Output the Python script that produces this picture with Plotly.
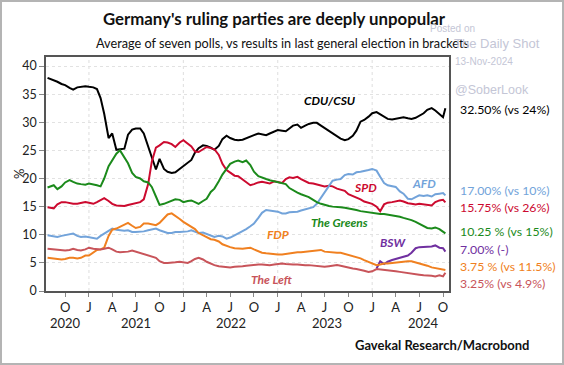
import pandas as pd
import plotly.graph_objects as go

FONT = "Lato, Arial, sans-serif"

# ---- data (semi-monthly readings, %) ----
dates = (["2020-08-08"]
         + [d.strftime("%Y-%m-%d") for d in pd.date_range("2020-09-01", "2024-10-15", freq="SMS")]
         + ["2024-10-24"])

cdu = [37.9,
       37.5, 37.2, 36.8, 36.6, 36.1, 35.8, 36.2, 36.3,
       36.4, 36.3, 36.2, 35.9, 34.3, 31.5, 27.2, 28.0, 25.1, 25.2, 25.3, 27.8,
       28.7, 28.9, 28.9, 28.0, 25.8, 23.8, 21.6, 23.5, 21.7, 21.2, 21.0, 21.1,
       21.7, 22.2, 22.7, 23.3, 24.6, 25.4, 25.9, 25.8, 25.5, 25.1, 25.8, 27.0,
       27.6, 27.2, 26.9, 26.8, 26.9, 27.2, 27.4, 27.7, 28.0, 27.9, 27.7, 28.0,
       28.4, 28.6, 28.5, 28.4, 28.9, 29.4, 29.6, 29.0, 29.4, 29.7, 29.9, 29.9,
       29.4, 29.0, 28.5, 28.1, 27.5, 27.1, 26.8, 27.0, 27.6, 28.5, 30.1, 30.4,
       31.0, 31.6, 31.8, 31.4, 31.0, 30.6, 30.5, 30.6, 30.8, 30.9, 30.7, 30.6,
       30.8, 31.1, 31.6, 32.2, 32.5, 32.1, 31.4, 30.9,
       32.5]

spd = [14.9,
       14.7, 15.4, 15.8, 15.8, 15.6, 15.5, 15.5, 15.6,
       15.8, 15.7, 15.5, 15.8, 16.1, 16.5, 16.0, 15.5, 15.2, 15.1, 15.1, 15.3,
       15.5, 15.6, 15.8, 16.3, 19.0, 23.0, 25.5, 25.9, 26.5, 26.4, 26.1, 25.6,
       26.4, 26.8, 26.2, 25.7, 24.8, 24.7, 25.2, 25.6, 25.4, 25.2, 24.2, 22.6,
       21.5, 21.1, 20.5, 20.4, 19.8, 19.2, 18.8, 19.0, 19.3, 19.4, 19.3, 19.1,
       19.5, 19.4, 19.2, 19.9, 20.2, 20.1, 20.3, 19.9, 19.5, 19.2, 19.1, 18.9,
       18.7, 18.6, 18.7, 18.6, 18.2, 18.0, 17.8, 17.2, 16.9, 16.7, 16.3, 15.9,
       15.7, 15.5, 15.0, 14.2, 15.4, 15.7, 15.8, 15.9, 16.1, 15.9, 15.6, 15.5,
       15.4, 15.5, 15.4, 15.3, 15.2, 15.8, 16.1, 16.2,
       15.75]

greens = [18.4,
          18.8, 18.1, 18.6, 19.3, 19.7, 19.4, 19.1, 19.0,
          18.9, 19.1, 19.0, 18.8, 18.6, 20.0, 22.2, 23.3, 24.4, 25.0, 23.6, 22.7,
          21.0, 20.3, 20.0, 19.5, 19.3, 18.5, 16.8, 15.3, 15.5, 15.8, 16.0, 16.3,
          16.2, 15.8, 16.0, 16.1, 15.8, 15.5, 16.0, 16.4, 17.6, 18.2, 19.5, 20.7,
          21.7, 22.6, 23.0, 23.2, 22.9, 23.2, 22.4, 21.2, 20.4, 20.1, 19.9, 19.7,
          19.5, 19.4, 19.2, 19.0, 18.3, 17.9, 17.5, 17.2, 16.9, 16.7, 16.2, 15.8,
          15.5, 15.3, 15.1, 15.0, 15.0, 14.9, 14.8, 14.7, 14.6, 14.4, 14.2, 14.1,
          13.9, 13.8, 13.8, 13.7, 13.7, 13.6, 13.5, 13.4, 13.2, 13.0, 12.8, 12.6,
          12.3, 12.0, 11.6, 11.2, 11.1, 11.3, 11.0, 10.6,
          10.25]

afd = [9.9,
       9.7, 9.6, 9.8, 9.9, 10.1, 10.2, 9.8, 9.6,
       9.7, 9.6, 9.5, 9.3, 9.8, 10.2, 10.8, 11.1, 10.9, 10.8, 10.7, 10.8,
       10.5, 10.5, 10.5, 10.6, 10.8, 10.9, 11.1, 10.8, 10.5, 10.3, 10.3, 10.5,
       10.5, 10.5, 10.6, 10.8, 10.6, 10.3, 10.4, 10.1, 9.9, 9.6, 9.8, 9.7,
       9.3, 9.5, 9.9, 10.2, 10.7, 11.0, 11.5, 12.0, 13.0, 13.9, 14.4, 14.3,
       14.3, 14.1, 13.8, 13.8, 14.0, 14.0, 14.1, 14.3, 14.5, 14.7, 14.9, 15.5,
       16.6, 17.5, 18.6, 19.6, 19.8, 19.9, 20.6, 20.8, 20.7, 21.1, 21.2, 21.3,
       21.5, 21.7, 21.4, 20.3, 19.2, 18.8, 18.6, 18.5, 17.7, 17.3, 16.4, 16.3,
       16.7, 17.0, 16.9, 17.0, 16.8, 17.2, 17.3, 17.4,
       17.0]

fdp = [5.9,
       5.8, 5.8, 5.6, 5.7, 5.9, 5.9, 5.8, 5.9,
       6.3, 6.3, 6.8, 7.3, 7.4, 7.7, 9.8, 10.9, 11.1, 11.4, 11.9, 12.1,
       11.6, 11.2, 11.4, 12.0, 12.0, 11.9, 11.7, 12.1, 12.9, 13.6, 13.8, 13.4,
       12.8, 12.3, 11.8, 11.4, 11.0, 10.3, 9.9, 9.6, 9.2, 9.1, 8.8, 8.3,
       8.0, 7.8, 7.6, 7.5, 7.5, 7.6, 7.7, 7.4, 7.0, 6.8, 6.7, 6.6,
       6.5, 6.5, 6.5, 6.6, 6.8, 6.8, 6.9, 6.9, 7.0, 7.1, 7.2, 7.3,
       7.3, 7.0, 6.9, 6.8, 6.8, 6.8, 6.6, 6.3, 6.1, 5.9, 5.8, 5.5,
       5.2, 4.9, 4.6, 4.7, 4.9, 4.9, 5.0, 5.1, 5.2, 5.2, 5.3, 5.3,
       5.1, 5.0, 4.8, 4.5, 4.2, 4.1, 4.0, 3.9,
       3.75]

left = [7.5,
        7.4, 7.4, 7.3, 7.2, 7.3, 7.5, 7.3, 7.2,
        7.4, 7.7, 7.5, 7.4, 7.4, 7.5, 7.7, 7.4, 7.0, 6.9, 6.9, 7.0,
        7.2, 7.0, 6.8, 6.6, 6.4, 6.2, 5.9, 5.3, 5.0, 5.0, 5.0, 5.1,
        5.2, 5.1, 5.0, 5.3, 5.7, 5.9, 5.6, 5.2, 4.8, 4.6, 4.4, 4.3,
        4.2, 4.2, 4.3, 4.3, 4.4, 4.5, 4.6, 4.6, 4.7, 4.7, 4.6, 4.6,
        4.7, 4.8, 4.9, 4.8, 4.7, 4.7, 4.7, 4.6, 4.6, 4.6, 4.5, 4.4,
        4.3, 4.3, 4.4, 4.5, 4.6, 4.5, 4.3, 4.2, 4.0, 3.9, 3.8, 3.6,
        3.4, 3.5, 3.9, 3.8, 3.7, 3.7, 3.6, 3.5, 3.4, 3.3, 3.1, 3.0,
        2.9, 2.9, 2.8, 2.8, 2.7, 2.6, 2.8, 2.6,
        3.25]

bsw = [4.0, 5.3, 4.8, 5.2, 5.5, 5.7, 5.9, 6.1, 6.3, 6.8,
       7.6, 7.8, 7.8, 7.8, 7.9, 8.1, 7.7, 7.6, 7.0]
bsw_dates = dates[-len(bsw):]

series_names = ["CDU/CSU", "SPD", "AFD", "The Greens", "BSW", "FDP", "The Left"]
series_colors = ["#000000", "#cc0a2f", "#72a3da", "#1b8a1b", "#7030a0", "#f08020", "#c8545a"]
right_texts = ["32.50% (vs 24%)", "15.75% (vs 26%)", "17.00% (vs 10%)", "10.25 % (vs 15%)",
               "7.00% (-)", "3.75 % (vs 11.5%)", "3.25% (vs 4.9%)"]

tick_dates = ["2020-10-15", "2021-01-15", "2021-04-15", "2021-07-15", "2021-10-15",
              "2022-01-15", "2022-04-15", "2022-07-15", "2022-10-15",
              "2023-01-15", "2023-04-15", "2023-07-15", "2023-10-15",
              "2024-01-15", "2024-04-15", "2024-07-15", "2024-10-15"]
tick_text = ["O", "J", "A", "J", "O", "J", "A", "J", "O", "J", "A", "J", "O", "J", "A", "J", "O"]
year_labels = ["2020", "2021", "2022", "2023", "2024"]
year_dates = ["2020-10-15", "2021-07-17", "2022-07-20", "2023-07-25", "2024-08-01"]
jan_dates = ["2021-01-15", "2022-01-15", "2023-01-15", "2024-01-15"]

# ---- layout-only positions ----
inline_pos = {  # series -> (date, y) for in-chart labels
    "CDU/CSU": ("2023-08-04", 33.9),
    "SPD": ("2023-12-22", 18.4),
    "AFD": ("2024-08-03", 19.2),
    "The Greens": ("2023-09-09", 12.2),
    "BSW": ("2024-04-08", 8.7),
    "FDP": ("2023-01-16", 10.0),
    "The Left": ("2022-12-20", 2.1),
}
right_y = [32.25, 14.76, 17.78, 10.61, 7.41, 4.27, 1.32]

series_values = [cdu, spd, afd, greens, bsw, fdp, left]

fig = go.Figure()
for name, vals, col in zip(series_names, series_values, series_colors):
    x = bsw_dates if name == "BSW" else dates
    fig.add_trace(go.Scatter(x=x, y=vals, mode="lines", name=name,
                             line=dict(color=col, width=2), hoverinfo="skip"))

PW, PH = 403, 234  # plot area size in px
ann = []
for name, col in zip(series_names, series_colors):
    d, yv = inline_pos[name]
    ann.append(dict(x=d, y=yv, xref="x", yref="y", text=name, showarrow=False,
                    font=dict(family=FONT, size=12, color=col, style="italic", weight="bold")))
for txt, col, yv in zip(right_texts, series_colors, right_y):
    ann.append(dict(x=(458 - 46) / PW, y=yv, xref="paper", yref="y", text=txt, showarrow=False,
                    xanchor="left", yanchor="middle", font=dict(family=FONT, size=12.3, color=col)))
for yl, yd in zip(year_labels, year_dates):
    ann.append(dict(x=yd, y=-(323 - 291) / PH, xref="x", yref="paper", text=yl, showarrow=False,
                    yanchor="middle", font=dict(family=FONT, size=13, color="#222")))
# y-axis unit label
ann.append(dict(x=(19 - 46) / PW, y=0.5, xref="paper", yref="paper", text="%", textangle=-90,
                showarrow=False, xanchor="center", yanchor="middle",
                font=dict(family=FONT, size=13, color="#222")))
# titles
ann.append(dict(x=(274 - 46) / PW, y=1 + (57 - 19) / PH, xref="paper", yref="paper",
                text="<b>Germany's ruling parties are deeply unpopular</b>", showarrow=False,
                yanchor="middle", font=dict(family=FONT, size=16.8, color="#111")))
ann.append(dict(x=(282 - 46) / PW, y=1 + (57 - 43) / PH, xref="paper", yref="paper",
                text="Average of seven polls, vs results in last general election in brackets",
                showarrow=False, yanchor="middle", font=dict(family=FONT, size=12.7, color="#111")))
ann.append(dict(x=(532 - 46) / PW, y=-(345 - 291) / PH, xref="paper", yref="paper",
                text="<b>Gavekal Research/Macrobond</b>", showarrow=False, xanchor="right",
                yanchor="middle", font=dict(family=FONT, size=13, color="#111")))
# watermark
WM = "#c4c6d6"
for txt, px, py, sz in [("Posted on", 428, 28, 10), ("The Daily Shot", 452, 44, 13),
                        ("13-Nov-2024", 453, 61, 10), ("@SoberLook", 453, 90, 12.5)]:
    ann.append(dict(x=(px - 46) / PW, y=1 - (py - 57) / PH, xref="paper", yref="paper",
                    text=txt, showarrow=False, xanchor="left", yanchor="middle",
                    font=dict(family="Liberation Sans, Arial, sans-serif", size=sz, color=WM)))

shapes = []
for jd in jan_dates:
    shapes.append(dict(type="line", x0=jd, x1=jd, y0=0, y1=1, xref="x", yref="paper",
                       line=dict(color="#dedede", width=1, dash="dot"), layer="below"))
shapes.append(dict(type="rect", xref="paper", yref="paper",
                   x0=-45 / PW, x1=(563 - 46) / PW, y0=-(364 - 291) / PH, y1=1 + (56) / PH,
                   line=dict(color="#b4b4b4", width=2), layer="below"))

fig.update_layout(
    width=564, height=365,
    margin=dict(l=46, r=115, t=57, b=74),
    paper_bgcolor="white", plot_bgcolor="white",
    showlegend=False,
    font=dict(family=FONT, size=13, color="#222"),
    annotations=ann, shapes=shapes,
    xaxis=dict(type="date", range=["2020-08-02", "2024-11-07"], automargin=False,
               tickmode="array", tickvals=tick_dates, ticktext=tick_text,
               ticks="outside", ticklen=4, tickcolor="#888", tickfont=dict(size=13, color="#222"),
               showline=True, linecolor="#555", linewidth=1.5, mirror=True, showgrid=False,
               zeroline=False),
    yaxis=dict(range=[0, 41.6], tickmode="array", tickvals=[0, 5, 10, 15, 20, 25, 30, 35, 40],
               automargin=False,
               ticks="outside", ticklen=5, tickcolor="#888", tickfont=dict(size=12.5, color="#222"),
               showline=True, linecolor="#555", linewidth=1.5, mirror=True,
               showgrid=True, gridcolor="#e2e2e2", griddash="dot", zeroline=False),
)

fig.write_html("out.html", config={"displayModeBar": False},
               post_script="document.body.style.margin='0';")
